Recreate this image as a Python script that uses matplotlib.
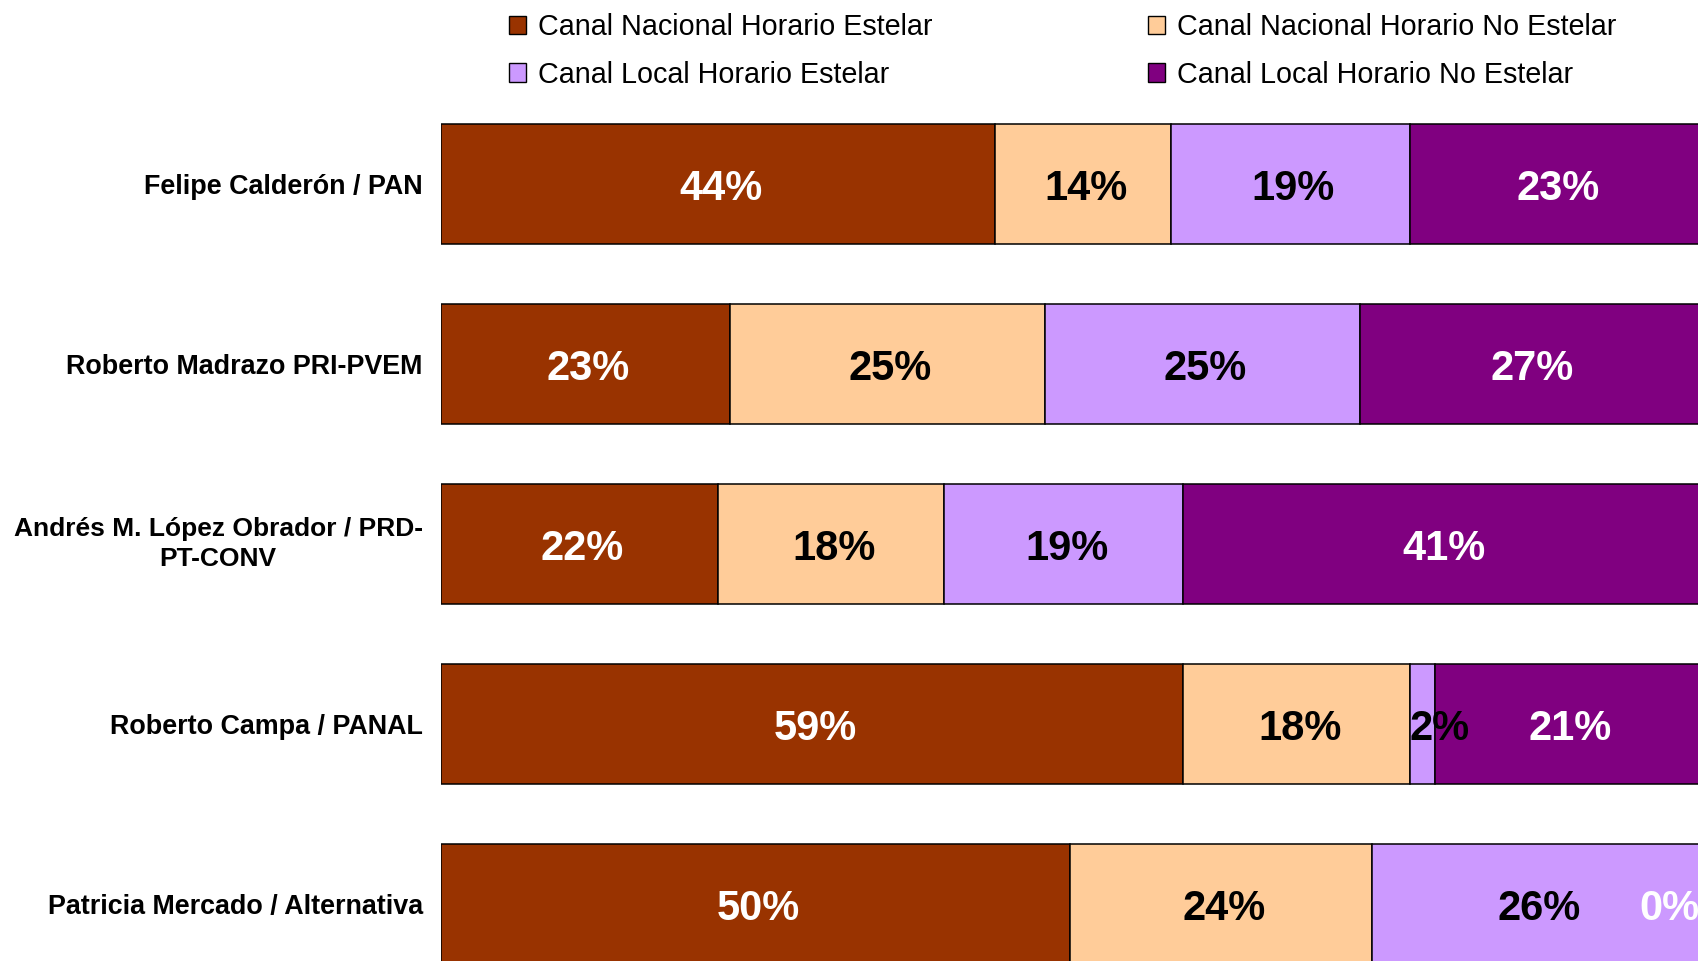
import matplotlib
matplotlib.use("Agg")
import matplotlib.pyplot as plt
import numpy as np

plt.rcParams['font.family'] = ['Liberation Sans', 'DejaVu Sans']

candidates = [
    "Felipe Calderón / PAN",
    "Roberto Madrazo PRI-PVEM",
    "Andrés M. López Obrador / PRD-\nPT-CONV",
    "Roberto Campa / PANAL",
    "Patricia Mercado / Alternativa",
]
series_names = [
    "Canal Nacional Horario Estelar",
    "Canal Nacional Horario No Estelar",
    "Canal Local Horario Estelar",
    "Canal Local Horario No Estelar",
]
nacional_estelar = [44, 23, 22, 59, 50]
nacional_no_estelar = [14, 25, 18, 18, 24]
local_estelar = [19, 25, 19, 2, 26]
local_no_estelar = [23, 27, 41, 21, 0]

colors = ["#993300", "#FFCC99", "#CC99FF", "#800080"]
label_colors = ["white", "black", "black", "white"]

W, H = 1698, 961
fig = plt.figure(figsize=(W / 100, H / 100), dpi=100)
ax_left = 440.7 / W
ax_right = 1699.5 / W
ax = fig.add_axes([ax_left, 0, ax_right - ax_left, 1])

y = np.arange(len(candidates))
spacing = 180.0
top_center = 184.0
ax.set_ylim((H - top_center) / spacing, -top_center / spacing)
ax.set_xlim(0, 100)

data = [nacional_estelar, nacional_no_estelar, local_estelar, local_no_estelar]
left = np.zeros(len(candidates))
handles = []
for i, vals in enumerate(data):
    vals = np.array(vals, dtype=float)
    bars = ax.barh(y, vals, left=left, height=120 / spacing, color=colors[i],
                   edgecolor="black", linewidth=1.1, label=series_names[i])
    handles.append(bars)
    for j, v in enumerate(vals):
        cx = left[j] + v / 2
        ha = "center"
        dx = 3
        if cx >= 99.5:
            cx = left[j] + v
            ha = "right"
            dx = 0
        elif v < 4:
            dx = 17
        ax.annotate(f"{int(v)}%", (cx, y[j]), xytext=(dx, 0),
                    textcoords="offset pixels", ha=ha, va="center_baseline",
                    fontsize=30, fontweight="bold", color=label_colors[i])
    left += vals

ax.set_yticks(y)
ax.set_yticklabels(candidates, fontsize=19.4, fontweight="bold",
                   multialignment="center", linespacing=1.32)
for t in ax.get_yticklabels():
    if "\n" in t.get_text():
        t.set_va("center")
        t.set_fontsize(19)
ax.tick_params(axis="y", length=0, pad=13)
ax.set_xticks([])
for s in ax.spines.values():
    s.set_visible(False)

order = [0, 2, 1, 3]
leg = fig.legend([handles[k] for k in order], [series_names[k] for k in order],
                 ncol=2, loc="upper left",
                 bbox_to_anchor=(509 / W, 1 - 13 / H),
                 frameon=False, fontsize=20.7, handlelength=0.6,
                 handleheight=0.6, handletextpad=0.4, columnspacing=7.5,
                 labelspacing=0.68, borderpad=0, borderaxespad=0)
for h in leg.legend_handles:
    h.set_linewidth(1.0)

fig.savefig("out.png", dpi=100)
